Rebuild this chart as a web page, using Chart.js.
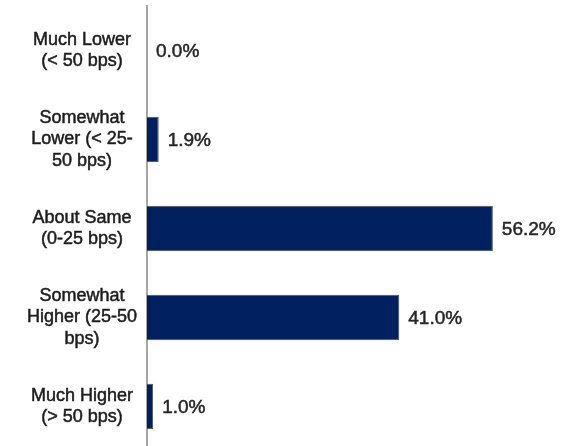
<!DOCTYPE html>
<html>
<head>
<meta charset="utf-8">
<script src="https://cdn.jsdelivr.net/npm/chart.js@4"></script>
<style>
  html, body { margin: 0; padding: 0; background: #fff; overflow: hidden; }
  #wrap { width: 561px; height: 446px; overflow: hidden; }
  canvas { display: block; }
</style>
</head>
<body>
<div id="wrap"><canvas id="c" width="561" height="452"></canvas></div>
<script>
// Survey responses: expected spread change
const categories = [
  ['Much Lower', '(< 50 bps)'],
  ['Somewhat', 'Lower (< 25-', '50 bps)'],
  ['About Same', '(0-25 bps)'],
  ['Somewhat', 'Higher (25-50', 'bps)'],
  ['Much Higher', '(> 50 bps)']
];
const shares = [0.0, 1.9, 56.2, 41.0, 1.0];

// Writes the percentage just past the end of each bar
const valueLabels = {
  id: 'valueLabels',
  afterDatasetsDraw(chart) {
    const ctx = chart.ctx;
    const meta = chart.getDatasetMeta(0);
    ctx.save();
    ctx.font = '19px "Liberation Sans", Arial, sans-serif';
    ctx.fillStyle = '#262626';
    ctx.strokeStyle = '#262626';
    ctx.lineWidth = 0.5;
    ctx.textAlign = 'left';
    ctx.textBaseline = 'middle';
    meta.data.forEach((bar, i) => {
      const v = chart.data.datasets[0].data[i];
      const label = v.toFixed(1) + '%';
      ctx.fillText(label, bar.x + 9, bar.y + 1);
      ctx.strokeText(label, bar.x + 9, bar.y + 1);
    });
    ctx.restore();
  }
};

new Chart(document.getElementById('c'), {
  type: 'bar',
  data: {
    labels: categories,
    datasets: [{
      data: shares,
      backgroundColor: '#002060',
      borderColor: '#4d4d4d',
      borderWidth: 1,
      barPercentage: 0.51,
      categoryPercentage: 1.0
    }]
  },
  options: {
    indexAxis: 'y',
    responsive: false,
    animation: false,
    layout: { padding: { top: 6, right: 14, left: 0, bottom: 1 } },
    plugins: { legend: { display: false }, tooltip: { enabled: false } },
    scales: {
      x: {
        display: false,
        min: 0,
        max: 65
      },
      y: {
        grid: { display: false, drawTicks: false },
        border: { display: true, color: '#a6a6a6', width: 2 },
        ticks: {
          crossAlign: 'center',
          padding: 10,
          color: '#1c1c1c',
          textStrokeColor: '#1c1c1c',
          textStrokeWidth: 0.5,
          font: { family: '"Liberation Sans", Arial, sans-serif', size: 18, lineHeight: 1.17 }
        },
        afterFit(scale) {
          scale.width = 147;
          scale.paddingTop = 0;
          scale.paddingBottom = 0;
        }
      }
    }
  },
  plugins: [valueLabels]
});
</script>
</body>
</html>
